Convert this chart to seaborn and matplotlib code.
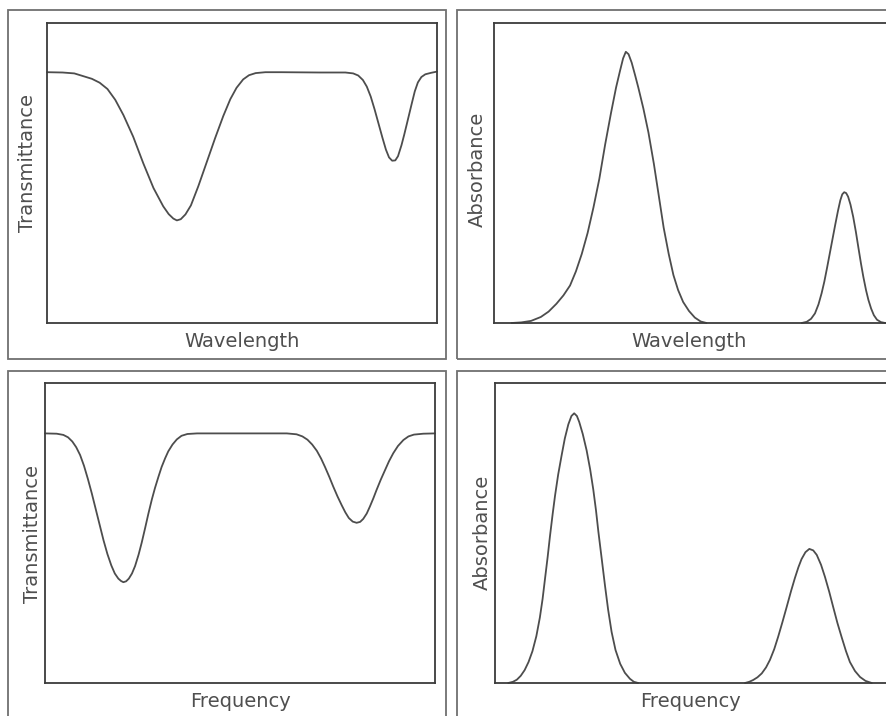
import matplotlib
matplotlib.use("Agg")
import matplotlib.pyplot as plt
import seaborn as sns
from matplotlib.patches import Rectangle

# ---- Spectra (x and y in relative units, 0-100 across each plot) ----
# Transmittance vs wavelength
wl_trans_x = [0, 4, 7, 9.5, 11.5, 13.5, 15.5, 17.5, 19.6, 22.1, 24.7, 27.3, 29.8, 31.2,
              32.4, 33.3, 34.3, 35.5, 36.9, 38.8, 40.9, 43.1, 45.2, 47.0, 48.6, 50.3,
              51.8, 53.5, 56, 60, 70, 76.5, 78.5, 79.8, 81.0, 82.0, 83.0, 84.0, 85.0,
              86.0, 86.9, 87.7, 88.5, 89.3, 90.0, 90.9, 91.6, 92.2, 93.5, 94.3, 95.1,
              96.0, 97.0, 98.5, 100]
wl_trans_y = [83.6, 83.5, 83.2, 82.2, 81.4, 80.1, 78.0, 74.4, 69.3, 62.1, 53.2, 45.0,
              38.9, 36.3, 34.8, 34.2, 34.6, 36.2, 39.2, 45.6, 53.4, 61.6, 69.0, 74.6,
              78.4, 81.2, 82.6, 83.3, 83.6, 83.6, 83.5, 83.5, 83.2, 82.5, 81.0, 78.8,
              75.5, 71.2, 66.5, 61.8, 57.8, 55.2, 54.1, 54.2, 55.6, 59.3, 62.8, 66.0,
              73.0, 77.2, 80.2, 82.0, 82.9, 83.4, 83.8]

# Absorbance vs wavelength (two separate bands)
wl_abs_band1_x = [4.5, 7, 9.5, 12, 14, 16, 17.8, 19.5, 21.0, 22.5, 24.0, 25.5, 27.0,
                  28.5, 30.0, 31.3, 32.3, 33.1, 33.8, 34.5, 35.3, 36.2, 37.0, 38.3,
                  39.6, 41.0, 42.3, 43.5, 44.8, 46.0, 47.2, 48.5, 50.0, 51.5, 53.0, 54.5]
wl_abs_band1_y = [0, 0.2, 0.7, 2.0, 3.8, 6.4, 9.2, 12.5, 17.2, 23.0, 30.0, 38.5, 48.0,
                  59.5, 70.0, 78.5, 84.0, 88.2, 90.4, 89.6, 86.8, 82.5, 78.5, 71.5,
                  63.5, 53.0, 42.0, 31.8, 23.0, 16.0, 11.0, 7.0, 4.0, 1.8, 0.5, 0]
wl_abs_band2_x = [78.9, 80.2, 81.3, 82.3, 83.2, 84.0, 84.7, 85.4, 86.1, 86.8, 87.5,
                  88.2, 88.8, 89.3, 89.8, 90.3, 90.8, 91.4, 92.1, 92.8, 93.4, 94.1,
                  94.7, 95.4, 96.0, 96.7, 97.4, 98.2, 99.2, 100.3]
wl_abs_band2_y = [0, 0.4, 1.4, 3.2, 6.2, 9.9, 13.8, 18.4, 23.2, 28.0, 32.8,
                  37.4, 40.9, 42.9, 43.6, 43.3, 42.1, 39.5, 35.4, 30.3, 25.4, 19.8,
                  15.4, 10.9, 7.7, 4.8, 2.6, 1.1, 0.3, 0]

# Transmittance vs frequency
fq_trans_x = [0, 3.0, 4.7, 5.9, 7.0, 8.0, 9.0, 10.0, 11.0, 12.0, 13.0, 14.0, 15.0, 16.0,
              17.0, 17.9, 18.8, 19.5, 20.1, 20.8, 21.5, 22.3, 23.1, 24.0, 24.8, 25.7,
              26.5, 27.4, 28.2, 29.1, 29.9, 30.8, 31.6, 32.7, 33.8, 35.0, 36.5, 39,
              50, 62, 64.5, 66.0, 67.3, 68.5, 69.7, 70.8, 71.8, 72.9, 73.9, 75.0, 76.1,
              77.0, 77.9, 78.9, 79.9, 80.8, 81.6, 82.5, 83.3, 84.2, 85.0, 86.1, 87.2,
              88.2, 89.3, 90.5, 91.9, 93.2, 94.6, 97.0, 100]
fq_trans_y = [83.2, 83.1, 82.7, 81.9, 80.5, 78.6, 76.0, 72.4, 68.0, 63.2, 58.0, 52.8,
              47.6, 43.0, 39.2, 36.5, 34.8, 34.0, 33.6, 33.9, 34.8, 36.5, 39.0, 42.8,
              46.8, 51.8, 56.4, 61.2, 65.0, 68.8, 72.0, 74.9, 77.2, 79.5, 81.2, 82.4,
              83.0, 83.2, 83.2, 83.2, 82.9, 82.2, 81.1, 79.5, 77.4, 74.8, 72.0, 68.7,
              65.5, 62.2, 59.2, 56.9, 55.0, 53.8, 53.4, 53.7, 54.7, 56.5, 58.8, 61.6,
              64.3, 67.8, 71.0, 73.9, 76.6, 79.0, 81.0, 82.2, 82.8, 83.1, 83.2]

# Absorbance vs frequency (two separate bands)
fq_abs_band1_x = [3.4, 4.6, 5.6, 6.6, 7.6, 8.6, 9.6, 10.6, 11.5, 12.2, 12.8, 13.5, 14.1,
                  14.8, 15.4, 16.2, 17.1, 17.9, 18.8, 19.6, 20.3, 21.0, 21.6, 22.5,
                  23.5, 24.4, 25.2, 25.9, 26.5, 27.4, 28.2, 29.0, 29.9, 30.9, 32.1,
                  33.3, 34.6, 35.6, 36.7]
fq_abs_band1_y = [0, 0.4, 1.1, 2.4, 4.3, 7.0, 10.6, 15.6, 21.8, 28.0, 34.5, 42.0, 49.0,
                  56.5, 62.5, 69.5, 76.0, 81.5, 86.2, 89.0, 89.9, 89.0, 87.0, 83.0,
                  77.5, 71.2, 64.5, 57.5, 50.5, 41.0, 32.5, 24.5, 17.0, 11.0, 6.4,
                  3.4, 1.4, 0.4, 0]
fq_abs_band2_x = [64.1, 65.2, 66.2, 67.3, 68.4, 69.5, 70.5, 71.6, 72.6, 73.7, 74.8,
                  75.9, 76.9, 77.8, 78.6, 79.6, 80.6, 81.6, 82.5, 83.6, 84.6, 85.7,
                  86.7, 87.8, 88.9, 90.0, 91.0, 92.3, 93.6, 95.0, 96.6]
fq_abs_band2_y = [0, 0.4, 1.0, 1.9, 3.2, 5.2, 7.7, 11.3, 15.4, 20.3, 25.4,
                  30.6, 35.0, 38.6, 41.3, 43.6, 44.7, 44.2, 42.7, 39.4, 35.4, 30.4,
                  25.4, 20.0, 15.2, 10.6, 7.0, 4.0, 2.0, 0.7, 0]

sns.set_theme(style="white")
plt.rcParams["font.family"] = ["DejaVu Sans"]

W, H = 886, 716
fig = plt.figure(figsize=(W / 100, H / 100), dpi=100)
fig.patch.set_facecolor("white")

LINE = "#4d4d4d"
SPINE = "#3c3c3c"
FRAME = "#707070"
TEXT = "#4f4f4f"


def add_axes_px(left, top, width, height):
    return fig.add_axes([left / W, 1 - (top + height) / H, width / W, height / H])


def add_frame_px(x0, y0, x1, y1):
    fig.add_artist(Rectangle((x0 / W, 1 - y1 / H), (x1 - x0) / W, (y1 - y0) / H,
                             transform=fig.transFigure, fill=False,
                             edgecolor=FRAME, linewidth=1.3))


# Outer boxes around each panel
add_frame_px(8, 10, 446, 359)
add_frame_px(457, 10, 905, 359)
add_frame_px(8, 371, 446, 725)
add_frame_px(457, 371, 905, 725)

panels = [
    dict(box=(47, 23, 390, 300), xmax=100, xlabel="Wavelength", ylabel="Transmittance",
         ylab_pos=(-0.036, 0.533), curves=[(wl_trans_x, wl_trans_y)]),
    dict(box=(494, 23, 400, 300), xmax=400 / 3.9, xlabel="Wavelength", ylabel="Absorbance",
         ylab_pos=(-0.027, 0.512),
         curves=[(wl_abs_band1_x, wl_abs_band1_y), (wl_abs_band2_x, wl_abs_band2_y)]),
    dict(box=(45, 383, 390, 300), xmax=100, xlabel="Frequency", ylabel="Transmittance",
         ylab_pos=(-0.017, 0.497), curves=[(fq_trans_x, fq_trans_y)]),
    dict(box=(495, 383, 400, 300), xmax=400 / 3.9, xlabel="Frequency", ylabel="Absorbance",
         ylab_pos=(-0.018, 0.502),
         curves=[(fq_abs_band1_x, fq_abs_band1_y), (fq_abs_band2_x, fq_abs_band2_y)]),
]

for p in panels:
    ax = add_axes_px(*p["box"])
    for xs, ys in p["curves"]:
        sns.lineplot(x=xs, y=ys, ax=ax, color=LINE, linewidth=1.3, clip_on=False)
    ax.set_xlim(0, p["xmax"])
    ax.set_ylim(0, 100)
    ax.set_xticks([])
    ax.set_yticks([])
    for s in ax.spines.values():
        s.set_visible(True)
        s.set_color(SPINE)
        s.set_linewidth(1.3)
    ax.set_xlabel(p["xlabel"], fontsize=14, color=TEXT, va="baseline")
    ax.xaxis.set_label_coords(0.5 * 390 / p["box"][2], -0.079)
    ax.set_ylabel(p["ylabel"], fontsize=14, color=TEXT, va="baseline")
    ax.yaxis.set_label_coords(*p["ylab_pos"])

fig.savefig("out.png", dpi=100, facecolor="white")
